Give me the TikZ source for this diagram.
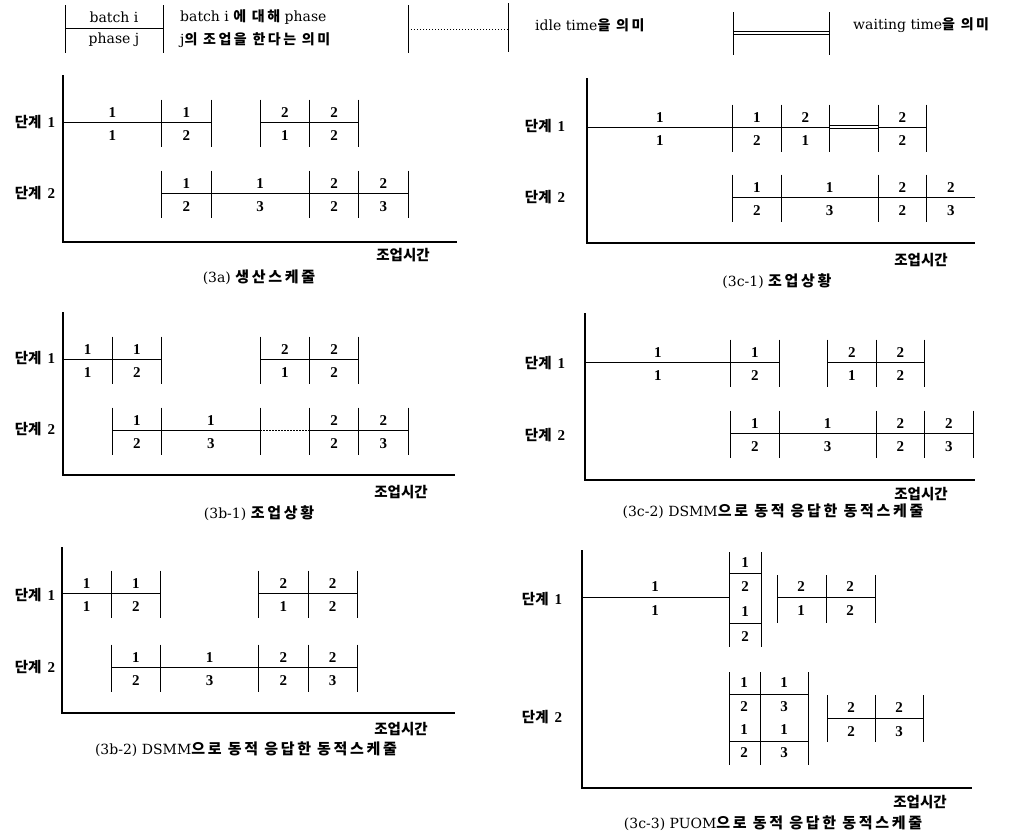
\documentclass[tikz,border=0pt]{standalone}
\usepackage{fontspec}
\setmainfont{DejaVu Serif}
\newfontfamily\kr{Noto Sans CJK KR}
\newfontfamily\krw[LetterSpace=18]{Noto Sans CJK KR}
\newfontfamily\numf{Liberation Serif}
\tikzset{
  axisline/.style={line width=2.6pt},
  tickline/.style={line width=0.75pt},
  taskline/.style={line width=0.9pt},
  idleline/.style={line width=0.9pt, dash pattern=on 1.3pt off 1.7pt},
  waitline/.style={line width=0.7pt},
  num/.style={inner sep=0pt, font=\numf\bfseries\fontsize{15}{17}\selectfont},
  stagelbl/.style={inner sep=0pt, font=\numf\bfseries\fontsize{15}{17}\selectfont},
  timelbl/.style={inner sep=0pt, font=\kr\bfseries\fontsize{14.5}{16}\selectfont},
  caplbl/.style={inner sep=0pt, font=\fontsize{14}{16}\selectfont},
  legtxt/.style={inner sep=0pt, anchor=west, font=\fontsize{14}{16}\selectfont},
  legbox/.style={inner sep=0pt, font=\fontsize{14}{16}\selectfont},
}
\newcommand\Ko[1]{{\kr\bfseries\fontsize{14.5}{16}\selectfont #1}}
\newcommand\Kc[1]{{\krw\bfseries\fontsize{15}{17}\selectfont #1}}
\newcommand\Kos[1]{{\krw\bfseries\fontsize{14}{16}\selectfont #1}}
\newcommand\Gseg[6]{%
  \draw[taskline] ({#2*\Gu},#4) -- ({#3*\Gu},#4);
  \node[num] (#1t) at ({(#2+#3)*\Gu/2},{#4-9.5}) {#5};
  \node[num] (#1b) at ({(#2+#3)*\Gu/2},{#4+14}) {#6};}
\newcommand\Gticks[2]{\foreach \k in {#2}{\draw[tickline] ({\k*\Gu},{#1-22.5}) -- ({\k*\Gu},{#1+24.5});}}
\newcommand\Gstage[1]{\Ko{단계}\hspace{6pt}#1}
\begin{document}
\begin{tikzpicture}[x=1pt,y=-1pt]
\useasboundingbox (0,0) rectangle (1010,835);
\fill[white] (0,0) rectangle (1010,835);

% ---------------- legend ----------------
\draw[tickline] (65,5) -- (65,53);
\draw[tickline] (163,5) -- (163,53);
\draw[taskline] (65,28) -- (163,28);
\node[legbox] (lb1) at (114,17) {batch i};
\node[legbox] (lb2) at (114,40) {phase j};
\node[legtxt] (lt1) at (180,17) {batch i \Kos{에 대해} phase};
\node[legtxt] (lt2) at (180,40) {j\Kos{의 조업을 한다는 의미}};
\draw[tickline] (408,5) -- (408,53);
\draw[tickline] (508,3) -- (508,52);
\draw[idleline] (408,29) -- (508,29);
\node[legtxt] (lt3) at (535,25) {idle time\Kos{을 의미}};
\draw[tickline] (733,12) -- (733,55);
\draw[tickline] (829,12) -- (829,55);
\draw[waitline] (733,31.5) -- (829,31.5);
\draw[waitline] (733,34) -- (829,34);
\node[legtxt] (lt4) at (853,25) {waiting time\Kos{을 의미}};

% ---------------- (3a) ----------------
\node[stagelbl] (a-s1) at (35,122) {\Gstage{1}};
\node[stagelbl] (a-s2) at (35,193) {\Gstage{2}};
\begin{scope}[shift={(63,0)}]\def\Gu{49.3}
  \draw[axisline] (0,75) -- (0,242) -- (394,242);
  \Gseg{a11}{0}{2}{122}{1}{1}
  \Gseg{a12}{2}{3}{122}{1}{2}
  \Gseg{a13}{4}{5}{122}{2}{1}
  \Gseg{a14}{5}{6}{122}{2}{2}
  \Gticks{122}{2,3,4,5,6}
  \Gseg{a21}{2}{3}{193}{1}{2}
  \Gseg{a22}{3}{5}{193}{1}{3}
  \Gseg{a23}{5}{6}{193}{2}{2}
  \Gseg{a24}{6}{7}{193}{2}{3}
  \Gticks{193}{2,3,5,6,7}
\end{scope}
\node[timelbl] (a-t) at (403,255) {조업시간};
\node[caplbl] (a-c) at (259,277) {(3a) \Kc{생산스케줄}};

% ---------------- (3c-1) ----------------
\node[stagelbl] (c1-s1) at (545,126) {\Gstage{1}};
\node[stagelbl] (c1-s2) at (545,197) {\Gstage{2}};
\begin{scope}[shift={(587,0)}]\def\Gu{48.5}
  \draw[axisline] (0,78) -- (0,243) -- (388,243);
  \Gseg{c111}{0}{3}{127}{1}{1}
  \Gseg{c112}{3}{4}{127}{1}{2}
  \Gseg{c113}{4}{5}{127}{2}{1}
  \draw[waitline] ({5*\Gu},125.8) -- ({6*\Gu},125.8);
  \draw[waitline] ({5*\Gu},128.4) -- ({6*\Gu},128.4);
  \Gseg{c114}{6}{7}{127}{2}{2}
  \Gticks{127}{3,4,5,6,7}
  \Gseg{c121}{3}{4}{197}{1}{2}
  \Gseg{c122}{4}{6}{197}{1}{3}
  \Gseg{c123}{6}{7}{197}{2}{2}
  \Gseg{c124}{7}{8}{197}{2}{3}
  \Gticks{197}{3,4,6,7}
\end{scope}
\node[timelbl] (c1-t) at (921,260) {조업시간};
\node[caplbl] (c1-c) at (777,281) {(3c-1) \Kc{조업상황}};

% ---------------- (3b-1) ----------------
\node[stagelbl] (b1-s1) at (35,358) {\Gstage{1}};
\node[stagelbl] (b1-s2) at (35,429) {\Gstage{2}};
\begin{scope}[shift={(63,0)}]\def\Gu{49.3}
  \draw[axisline] (0,312) -- (0,475) -- (392,475);
  \Gseg{b111}{0}{1}{359}{1}{1}
  \Gseg{b112}{1}{2}{359}{1}{2}
  \Gseg{b113}{4}{5}{359}{2}{1}
  \Gseg{b114}{5}{6}{359}{2}{2}
  \Gticks{359}{1,2,4,5,6}
  \Gseg{b121}{1}{2}{430}{1}{2}
  \Gseg{b122}{2}{4}{430}{1}{3}
  \draw[idleline] ({4*\Gu},430) -- ({5*\Gu},430);
  \Gseg{b123}{5}{6}{430}{2}{2}
  \Gseg{b124}{6}{7}{430}{2}{3}
  \Gticks{430}{1,2,4,5,6,7}
\end{scope}
\node[timelbl] (b1-t) at (401,492) {조업시간};
\node[caplbl] (b1-c) at (259,513) {(3b-1) \Kc{조업상황}};

% ---------------- (3c-2) ----------------
\node[stagelbl] (c2-s1) at (545,363) {\Gstage{1}};
\node[stagelbl] (c2-s2) at (545,435) {\Gstage{2}};
\begin{scope}[shift={(585,0)}]\def\Gu{48.5}
  \draw[axisline] (0,313) -- (0,480) -- (390,480);
  \Gseg{c211}{0}{3}{362}{1}{1}
  \Gseg{c212}{3}{4}{362}{1}{2}
  \Gseg{c213}{5}{6}{362}{2}{1}
  \Gseg{c214}{6}{7}{362}{2}{2}
  \Gticks{362}{3,4,5,6,7}
  \Gseg{c221}{3}{4}{433}{1}{2}
  \Gseg{c222}{4}{6}{433}{1}{3}
  \Gseg{c223}{6}{7}{433}{2}{2}
  \Gseg{c224}{7}{8}{433}{2}{3}
  \Gticks{433}{3,4,6,7,8}
\end{scope}
\node[timelbl] (c2-t) at (921,494) {조업시간};
\node[caplbl] (c2-c) at (773,511) {(3c-2) DSMM\Kc{으로 동적 응답한 동적스케줄}};

% ---------------- (3b-2) ----------------
\node[stagelbl] (b2-s1) at (35,595) {\Gstage{1}};
\node[stagelbl] (b2-s2) at (35,667) {\Gstage{2}};
\begin{scope}[shift={(62,0)}]\def\Gu{49.2}
  \draw[axisline] (0,547) -- (0,713) -- (393,713);
  \Gseg{b211}{0}{1}{593}{1}{1}
  \Gseg{b212}{1}{2}{593}{1}{2}
  \Gseg{b213}{4}{5}{593}{2}{1}
  \Gseg{b214}{5}{6}{593}{2}{2}
  \Gticks{593}{1,2,4,5,6}
  \Gseg{b221}{1}{2}{667}{1}{2}
  \Gseg{b222}{2}{4}{667}{1}{3}
  \Gseg{b223}{4}{5}{667}{2}{2}
  \Gseg{b224}{5}{6}{667}{2}{3}
  \Gticks{667}{1,2,4,5,6}
\end{scope}
\node[timelbl] (b2-t) at (401,729) {조업시간};
\node[caplbl] (b2-c) at (246,749) {(3b-2) DSMM\Kc{으로 동적 응답한 동적스케줄}};

% ---------------- (3c-3) ----------------
\node[stagelbl] (c3-s1) at (542,599) {\Gstage{1}};
\node[stagelbl] (c3-s2) at (542,717) {\Gstage{2}};
\draw[axisline] (582,550) -- (582,788) -- (972,788);
\draw[taskline] (582,597) -- (729,597);
\node[num] (c3-11t) at (655,587) {1};
\node[num] (c3-11b) at (655,611) {1};
% stacked block, stage 1
\draw[tickline] (729,552) -- (729,647);
\draw[tickline] (761,552) -- (761,647);
\draw[taskline] (729,573) -- (761,573);
\draw[taskline] (729,623) -- (761,623);
\node[num] (c3-k1) at (745,563) {1};
\node[num] (c3-k2) at (745,587) {2};
\node[num] (c3-k3) at (745,612) {1};
\node[num] (c3-k4) at (745,637) {2};
% stage 1, batch 2
\draw[taskline] (777,597) -- (875,597);
\foreach \x in {777,826,875}{\draw[tickline] (\x,575) -- (\x,623);}
\node[num] (c3-13t) at (801,587) {2};
\node[num] (c3-13b) at (801,611) {1};
\node[num] (c3-14t) at (850,587) {2};
\node[num] (c3-14b) at (850,611) {2};
% stacked block, stage 2
\foreach \x in {729,760,808}{\draw[tickline] (\x,672) -- (\x,765);}
\draw[taskline] (729,694) -- (808,694);
\draw[taskline] (729,741) -- (808,741);
\node[num] (c3-m1) at (744,683) {1};
\node[num] (c3-m2) at (784,683) {1};
\node[num] (c3-m3) at (744,707) {2};
\node[num] (c3-m4) at (784,707) {3};
\node[num] (c3-m5) at (744,730) {1};
\node[num] (c3-m6) at (784,730) {1};
\node[num] (c3-m7) at (744,753) {2};
\node[num] (c3-m8) at (784,753) {3};
% stage 2, batch 2
\draw[taskline] (827,718) -- (923,718);
\foreach \x in {827,875,923}{\draw[tickline] (\x,695) -- (\x,742);}
\node[num] (c3-23t) at (851,708) {2};
\node[num] (c3-23b) at (851,732) {2};
\node[num] (c3-24t) at (899,708) {2};
\node[num] (c3-24b) at (899,732) {3};
\node[timelbl] (c3-t) at (920,802) {조업시간};
\node[caplbl] (c3-c) at (773,823) {(3c-3) PUOM\Kc{으로 동적 응답한 동적스케줄}};
\end{tikzpicture}
\end{document}
